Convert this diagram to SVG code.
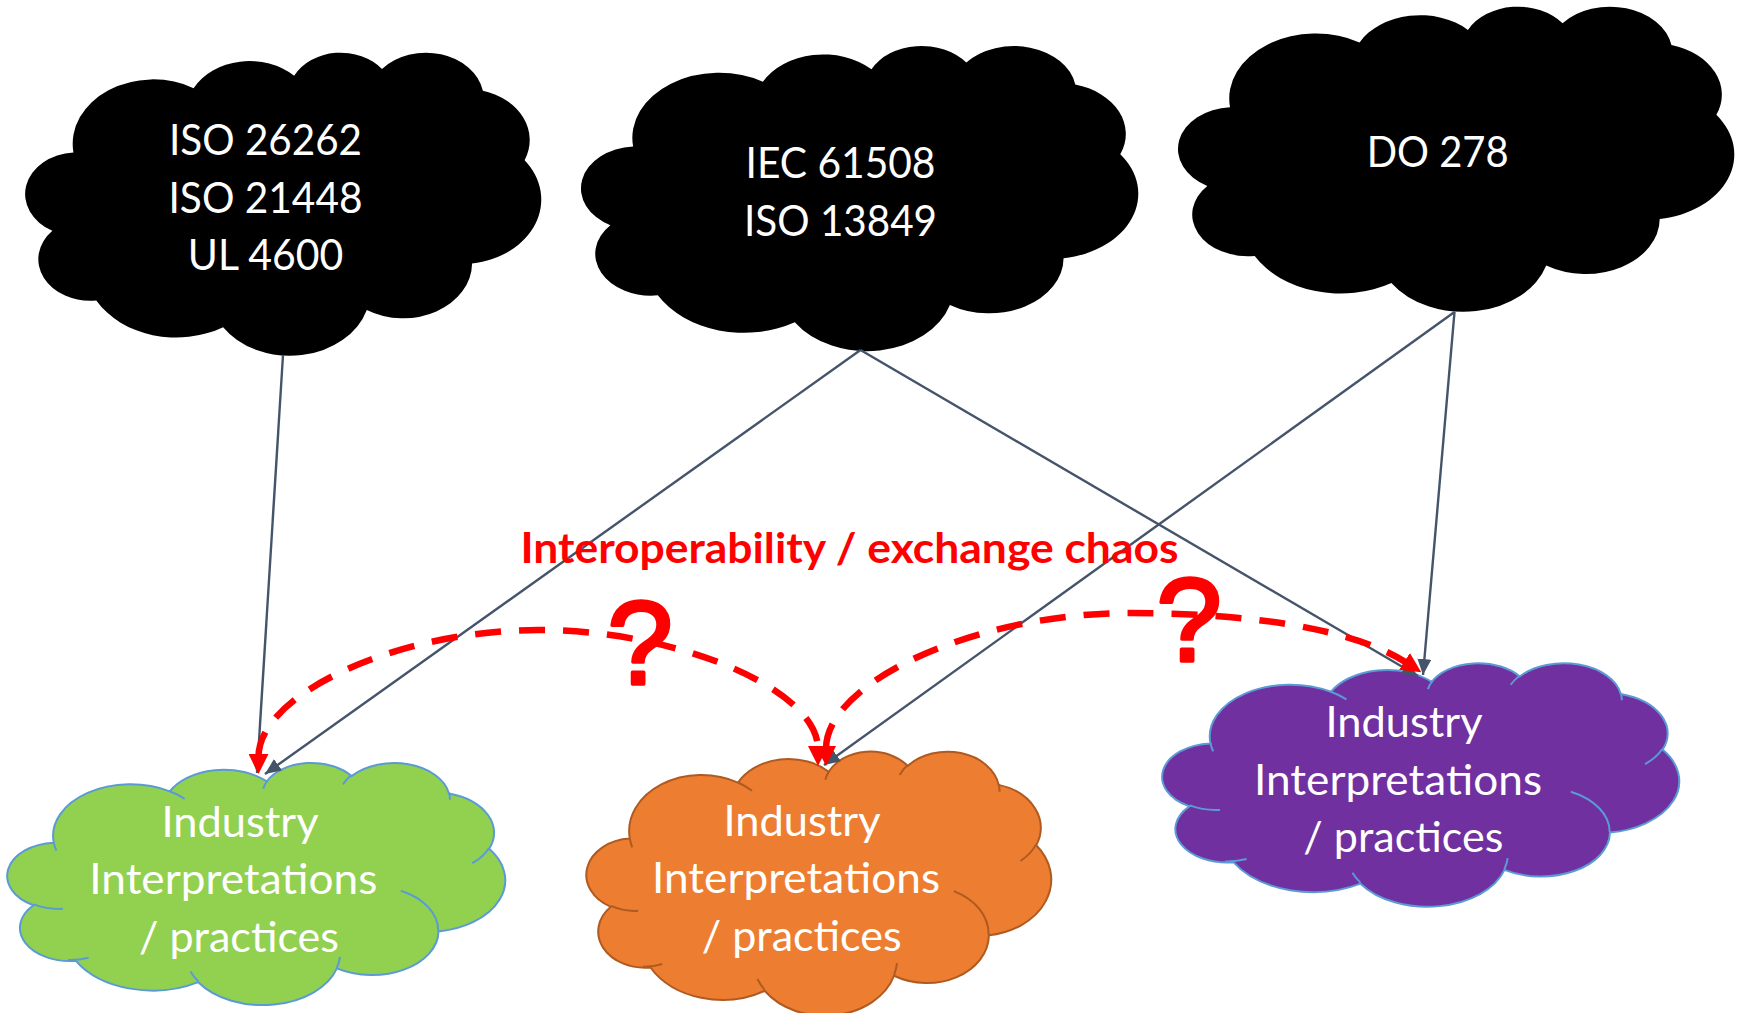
<svg xmlns="http://www.w3.org/2000/svg" width="1741" height="1013" viewBox="0 0 1741 1013">
  <defs>
    <style>
      .label { font-family: Lato, Carlito, "Liberation Sans", sans-serif; font-size: 42px; fill: #FFFFFF; text-anchor: middle; }
      .title { font-family: Lato, Carlito, "Liberation Sans", sans-serif; font-size: 42px; font-weight: bold; fill: #FF0000; text-anchor: middle; }
      .qmark { font-family: "Liberation Sans", Arial, sans-serif; font-size: 118px; fill: #FF0000; stroke: #FF0000; stroke-width: 3.5; stroke-linejoin: round; text-anchor: middle; }
      .std { fill: #000000; stroke: none; }
      .green { fill: #92D050; stroke: #5B9BD5; stroke-width: 2; }
      .orange { fill: #ED7D31; stroke: #AE5A21; stroke-width: 2; }
      .purple { fill: #7030A0; stroke: #5B9BD5; stroke-width: 2; }
      .crease { fill: none; }
      .link { fill: none; stroke: #44546A; stroke-width: 2.4; marker-end: url(#headDark); }
      .chaos { fill: none; stroke: #FF0000; stroke-width: 6.5; stroke-dasharray: 26 18; marker-start: url(#headRed); marker-end: url(#headRed); }
    </style>
    <!-- cloud outline in a 100x100 box, eleven elliptical bumps -->
    <path id="cloud" vector-effect="non-scaling-stroke" d="M9.03 33.26 A15.63 21.27 0 0 1 32.41 12.04 A12.34 16.82 0 0 1 51.98 7.94 A10.10 13.76 0 0 1 69.06 5.74 A11.24 15.27 0 0 1 88.70 12.91 A12.34 16.84 0 0 1 96.81 35.79 A15.68 21.34 0 0 1 86.59 69.91 A13.39 18.21 0 0 1 66.11 85.21 A15.63 21.33 0 0 1 38.16 90.90 A17.87 24.41 0 0 1 13.48 82.08 A10.09 13.70 0 0 1 4.93 59.11 A10.06 13.76 0 0 1 9.03 33.26 Z"/>
    <!-- short inner arcs where the bumps overlap -->
    <path id="cloudCreases" vector-effect="non-scaling-stroke" d="M10.86 60.59 A10.06 13.76 0 0 1 5.00 58.75 M16.04 80.78 A10.09 13.70 0 0 1 11.86 81.75 M38.14 90.49 A15.63 21.33 0 0 1 36.59 86.45 M66.73 80.44 A15.63 21.33 0 0 1 66.11 84.86 M79.00 53.13 A13.39 18.21 0 0 1 86.53 69.65 M96.75 35.54 A12.34 16.84 0 0 1 93.40 41.74 M88.71 12.56 A11.24 15.27 0 0 1 88.89 15.48 M67.31 9.15 A11.24 15.27 0 0 1 69.03 5.42 M51.25 10.93 A10.10 13.76 0 0 1 52.08 7.71 M32.41 12.02 A15.63 21.27 0 0 1 35.42 15.14 M9.55 36.55 A15.63 21.27 0 0 1 9.03 33.27"/>
    <marker id="headDark" markerUnits="userSpaceOnUse" viewBox="0 0 16 14" refX="16" refY="7" markerWidth="16" markerHeight="14" orient="auto">
      <path d="M0 0 L16 7 L0 14 Z" fill="#44546A"/>
    </marker>
    <marker id="headRed" markerUnits="userSpaceOnUse" viewBox="0 0 20 20" refX="3" refY="10" markerWidth="20" markerHeight="20" orient="auto-start-reverse">
      <path d="M0 0 L20 10 L0 20 Z" fill="#FF0000"/>
    </marker>
  </defs>

  <rect x="0" y="0" width="1741" height="1013" fill="#FFFFFF"/>

  <!-- standards -->
  <g id="std-automotive">
    <use href="#cloud" class="std" transform="translate(27 51.7) scale(5.14 3.03)"/>
    <text class="label" x="265.5" y="155" textLength="193" lengthAdjust="spacingAndGlyphs">ISO 26262</text>
    <text class="label" x="265.5" y="212.7" textLength="194" lengthAdjust="spacingAndGlyphs">ISO 21448</text>
    <text class="label" x="265.5" y="270" textLength="155.5" lengthAdjust="spacingAndGlyphs">UL 4600</text>
  </g>
  <g id="std-industrial">
    <use href="#cloud" class="std" transform="translate(583 45) scale(5.55 3.05)"/>
    <text class="label" x="840.5" y="178" textLength="190" lengthAdjust="spacingAndGlyphs">IEC 61508</text>
    <text class="label" x="840.5" y="235.5" textLength="193" lengthAdjust="spacingAndGlyphs">ISO 13849</text>
  </g>
  <g id="std-avionics">
    <use href="#cloud" class="std" transform="translate(1180 5.7) scale(5.54 3.05)"/>
    <text class="label" x="1437.7" y="167" textLength="142" lengthAdjust="spacingAndGlyphs">DO 278</text>
  </g>

  <!-- industry practices -->
  <g id="practice-green">
    <use href="#cloud" class="green" transform="translate(9 762.2) scale(4.96 2.42)"/>
    <use href="#cloudCreases" class="green crease" transform="translate(9 762.2) scale(4.96 2.42)"/>
    <text class="label" x="240" y="836.5" textLength="157" lengthAdjust="spacingAndGlyphs">Industry</text>
    <text class="label" x="233.3" y="894" textLength="288" lengthAdjust="spacingAndGlyphs">Interpretations</text>
    <text class="label" x="239" y="951.5" textLength="200" lengthAdjust="spacingAndGlyphs">/ practices</text>
  </g>
  <g id="practice-orange">
    <use href="#cloud" class="orange" transform="translate(588 750.8) scale(4.63 2.64)"/>
    <use href="#cloudCreases" class="orange crease" transform="translate(588 750.8) scale(4.63 2.64)"/>
    <text class="label" x="802" y="835.5" textLength="157" lengthAdjust="spacingAndGlyphs">Industry</text>
    <text class="label" x="796" y="893" textLength="288" lengthAdjust="spacingAndGlyphs">Interpretations</text>
    <text class="label" x="801.7" y="950.5" textLength="200" lengthAdjust="spacingAndGlyphs">/ practices</text>
  </g>
  <g id="practice-purple">
    <use href="#cloud" class="purple" transform="translate(1164 662.5) scale(5.15 2.433)"/>
    <use href="#cloudCreases" class="purple crease" transform="translate(1164 662.5) scale(5.15 2.433)"/>
    <text class="label" x="1404" y="737" textLength="157" lengthAdjust="spacingAndGlyphs">Industry</text>
    <text class="label" x="1398" y="794.5" textLength="288" lengthAdjust="spacingAndGlyphs">Interpretations</text>
    <text class="label" x="1403.3" y="852" textLength="200" lengthAdjust="spacingAndGlyphs">/ practices</text>
  </g>

  <!-- connectors -->
  <g id="connectors">
    <path class="link" d="M283 355 L257 773"/>
    <path class="link" d="M860.5 350 L265 774"/>
    <path class="link" d="M860.5 350 L1418 676"/>
    <path class="link" d="M1454.5 312 L824 765"/>
    <path class="link" d="M1454.5 312 L1423 675"/>
    <path class="chaos" d="M258.5 757 C258.5 693.5 398.5 630 538.5 630 C678.5 630 818 689.5 818 749"/>
    <path class="chaos" d="M826 749 C826 681 978 613 1130 613 C1230 613 1347 624.4 1407 663"/>
  </g>

  <!-- heading and question marks -->
  <g id="chaos-label">
    <text class="title" x="849.5" y="563" textLength="658" lengthAdjust="spacingAndGlyphs">Interoperability / exchange chaos</text>
    <text class="qmark" x="640" y="684">?</text>
    <text class="qmark" x="1189" y="661">?</text>
  </g>
</svg>
